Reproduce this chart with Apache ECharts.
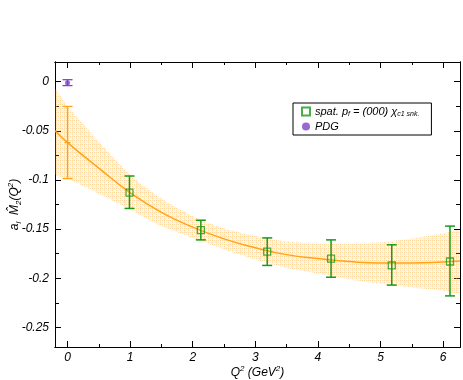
<!DOCTYPE html>
<html>
<head>
<meta charset="utf-8">
<script src="https://cdn.jsdelivr.net/npm/echarts@6/dist/echarts.min.js"></script>
<style>
  html, body { margin: 0; padding: 0; background: #fff; }
  #chart { width: 463px; height: 380px; }
</style>
</head>
<body>
<div id="chart"></div>
<script>
// lattice points (green squares)
const ptX = [0.99, 2.13, 3.19, 4.21, 5.18, 6.11];
const ptY = [-0.113, -0.151, -0.173, -0.180, -0.187, -0.183];
const ptLo = [-0.129, -0.161, -0.187, -0.199, -0.207, -0.218];
const ptHi = [-0.096, -0.141, -0.159, -0.161, -0.166, -0.147];

// PDG
const pdgX = [0];
const pdgY = [-0.001];
const pdgLo = [-0.004];
const pdgHi = [0.002];

// extrapolated point at Q^2 = 0
const extX = [0];
const extY = [-0.062];
const extLo = [-0.0986];
const extHi = [-0.0252];

// fit curve and error band
const fitX = [-0.2, 0, 0.5, 1, 1.5, 2, 2.5, 3, 3.5, 4, 4.5, 5, 5.5, 6, 6.27];
const fitY = [-0.050, -0.062, -0.088, -0.113, -0.133, -0.148, -0.160, -0.169, -0.176, -0.180, -0.183, -0.1845, -0.1845, -0.1835, -0.1826];
const bandHi = [-0.008, -0.025, -0.061, -0.095, -0.119, -0.137, -0.1495, -0.157, -0.1625, -0.165, -0.165, -0.1635, -0.1595, -0.1545, -0.152];
const bandLo = [-0.094, -0.0986, -0.114, -0.130, -0.147, -0.159, -0.1705, -0.181, -0.1895, -0.195, -0.201, -0.2055, -0.2095, -0.2125, -0.215];

const xMajor = [0, 1, 2, 3, 4, 5, 6];
const xMinor = [0.5, 1.5, 2.5, 3.5, 4.5, 5.5];
const yMajor = [0, -0.05, -0.1, -0.15, -0.2, -0.25];
const yMinor = [-0.025, -0.075, -0.125, -0.175, -0.225];

const FONT = 'Liberation Sans';

// hatch pattern for the band
const pat = document.createElement('canvas');
pat.width = 4; pat.height = 4;
const pc = pat.getContext('2d');
pc.fillStyle = 'rgba(255,205,130,0.2)';
pc.fillRect(0, 0, 4, 4);
pc.fillStyle = 'rgba(255,175,50,0.42)';
pc.fillRect(0, 0, 1, 1);
pc.fillRect(2, 0, 1, 1);
pc.fillRect(0, 2, 1, 1);

const errBar = (color, cap, width) => (params, api) => {
  const x = api.value(0);
  const top = api.coord([x, api.value(2)]);
  const bot = api.coord([x, api.value(1)]);
  const st = { stroke: color, lineWidth: width };
  return {
    type: 'group',
    children: [
      { type: 'line', shape: { x1: top[0], y1: top[1], x2: bot[0], y2: bot[1] }, style: st },
      { type: 'line', shape: { x1: top[0] - cap, y1: top[1], x2: top[0] + cap, y2: top[1] }, style: st },
      { type: 'line', shape: { x1: bot[0] - cap, y1: bot[1], x2: bot[0] + cap, y2: bot[1] }, style: st },
    ],
  };
};

// band drawn as one polygon: upper edge left->right, lower edge back
const renderBand = (params, api) => {
  if (params.dataIndex !== 0) return;
  const pts = [];
  for (let i = 0; i < fitX.length; i++) pts.push(api.coord([fitX[i], bandHi[i]]));
  for (let i = fitX.length - 1; i >= 0; i--) pts.push(api.coord([fitX[i], bandLo[i]]));
  return {
    type: 'polygon',
    shape: { points: pts, smooth: 0.2 },
    style: { fill: { image: pat, repeat: 'repeat' }, stroke: null },
    silent: true,
  };
};

// small horizontal mark at the centre of the extrapolated point
const renderMark = (params, api) => {
  const p = api.coord([api.value(0), api.value(1)]);
  return {
    type: 'line',
    shape: { x1: p[0] - 3, y1: p[1], x2: p[0] + 3, y2: p[1] },
    style: { stroke: '#ffa31a', lineWidth: 1.3 },
  };
};

const zip = (a, b) => a.map((v, i) => [v, b[i]]);
const zip3 = (a, b, c) => a.map((v, i) => [v, b[i], c[i]]);

const axisLineStyle = { show: true, onZero: false, lineStyle: { color: '#000', width: 1 } };
const labelStyle = { color: '#000', fontSize: 12, fontStyle: 'italic', fontFamily: FONT };

function xAx(pos, vals, len, labels) {
  return {
    type: 'value', position: pos, min: -0.2, max: 6.27,
    axisLine: axisLineStyle,
    axisTick: { show: true, inside: true, length: len, customValues: vals, lineStyle: { color: '#000' } },
    axisLabel: labels ? Object.assign({ customValues: xMajor, margin: 5 }, labelStyle) : { show: false },
    splitLine: { show: false },
  };
}
function yAx(pos, vals, len, labels) {
  return {
    type: 'value', position: pos, min: -0.27, max: 0.02,
    axisLine: axisLineStyle,
    axisTick: { show: true, inside: true, length: len, customValues: vals, lineStyle: { color: '#000' } },
    axisLabel: labels ? Object.assign({ customValues: yMajor, margin: 6 }, labelStyle) : { show: false },
    splitLine: { show: false },
  };
}

const xAxes = [
  xAx('bottom', xMajor, 6, true),
  xAx('bottom', xMinor, 3, false),
  xAx('top', xMajor, 6, false),
  xAx('top', xMinor, 3, false),
];
xAxes[0].name = '{n|Q}{p|2}{n| (GeV}{p|2}{n|)}';
xAxes[0].nameLocation = 'middle';
xAxes[0].nameGap = 18;
xAxes[0].nameMoveOverlap = false;
xAxes[0].nameTextStyle = {
  fontFamily: FONT, fontStyle: 'italic', color: '#000',
  rich: {
    n: { fontSize: 12, fontStyle: 'italic', fontFamily: FONT, lineHeight: 14, verticalAlign: 'bottom' },
    p: { fontSize: 8, fontStyle: 'italic', fontFamily: FONT, verticalAlign: 'top', lineHeight: 14 },
  },
};

const yAxes = [
  yAx('left', yMajor, 6, true),
  yAx('left', yMinor, 4, false),
  yAx('right', yMajor, 6, false),
  yAx('right', yMinor, 4, false),
];
yAxes[0].name = '{n|a}{s|l}{n|  M̂}{s|2}{n|(Q}{p|2}{n|)}';
yAxes[0].nameLocation = 'middle';
yAxes[0].nameGap = 32;
yAxes[0].nameMoveOverlap = false;
yAxes[0].nameTextStyle = {
  fontFamily: FONT, fontStyle: 'italic', color: '#000',
  rich: {
    n: { fontSize: 12, fontStyle: 'italic', fontFamily: FONT, lineHeight: 16, verticalAlign: 'middle' },
    s: { fontSize: 8, fontStyle: 'italic', fontFamily: FONT, verticalAlign: 'bottom', lineHeight: 16 },
    p: { fontSize: 8, fontStyle: 'italic', fontFamily: FONT, verticalAlign: 'top', lineHeight: 16 },
  },
};

const GREEN = '#1a9a1a';
const PURPLE = '#7f44c8';
const ORANGE = '#ffa31a';

const option = {
  animation: false,
  backgroundColor: '#fff',
  grid: { left: 55, right: 3, top: 62, bottom: 33, containLabel: false, outerBoundsMode: 'none' },
  xAxis: xAxes,
  yAxis: yAxes,
  legend: {
    orient: 'vertical',
    left: 293, top: 103,
    borderColor: '#000', borderWidth: 1, borderRadius: 0,
    padding: [3, 12, 3, 8],
    itemGap: 3,
    itemWidth: 8, itemHeight: 8,
    data: ['spat', 'PDG'],
    formatter: (name) => name === 'spat'
      ? '{n|spat. p}{s|f}{n| = (000) χ}{s|c1 snk.}'
      : '{n|PDG}',
    textStyle: {
      color: '#000',
      rich: {
        n: { fontSize: 11, fontStyle: 'italic', fontFamily: FONT, lineHeight: 13, verticalAlign: 'middle' },
        s: { fontSize: 7, fontStyle: 'italic', fontFamily: FONT, lineHeight: 13, verticalAlign: 'bottom' },
      },
    },
  },
  series: [
    {
      type: 'custom', renderItem: renderBand, silent: true, clip: true,
      encode: { x: 0, y: 1 },
      data: [[fitX[0], fitY[0]]], z: 1,
    },
    {
      type: 'line', smooth: true, symbol: 'none',
      lineStyle: { color: ORANGE, width: 1.5 },
      data: zip(fitX, fitY), z: 3,
    },
    {
      type: 'custom', renderItem: errBar(ORANGE, 5, 1.3),
      encode: { x: 0, y: [1, 2] },
      data: zip3(extX, extLo, extHi), z: 4,
    },
    {
      type: 'custom', renderItem: renderMark,
      encode: { x: 0, y: 1 },
      data: zip(extX, extY), z: 4,
    },
    {
      type: 'custom', renderItem: errBar(GREEN, 5, 1.5),
      encode: { x: 0, y: [1, 2] },
      data: zip3(ptX, ptLo, ptHi), z: 4,
    },
    {
      type: 'custom', renderItem: errBar(PURPLE, 5, 1.3),
      encode: { x: 0, y: [1, 2] },
      data: zip3(pdgX, pdgLo, pdgHi), z: 4,
    },
    {
      name: 'spat', type: 'scatter', symbol: 'rect', symbolSize: 7,
      itemStyle: { color: 'rgba(255,255,255,0)', borderColor: GREEN, borderWidth: 1.3 },
      data: zip(ptX, ptY), z: 5,
    },
    {
      name: 'PDG', type: 'scatter', symbol: 'circle', symbolSize: 5,
      itemStyle: { color: PURPLE },
      data: zip(pdgX, pdgY), z: 5,
    },
  ],
};

const chart = echarts.init(document.getElementById('chart'));
chart.setOption(option);
</script>
</body>
</html>
